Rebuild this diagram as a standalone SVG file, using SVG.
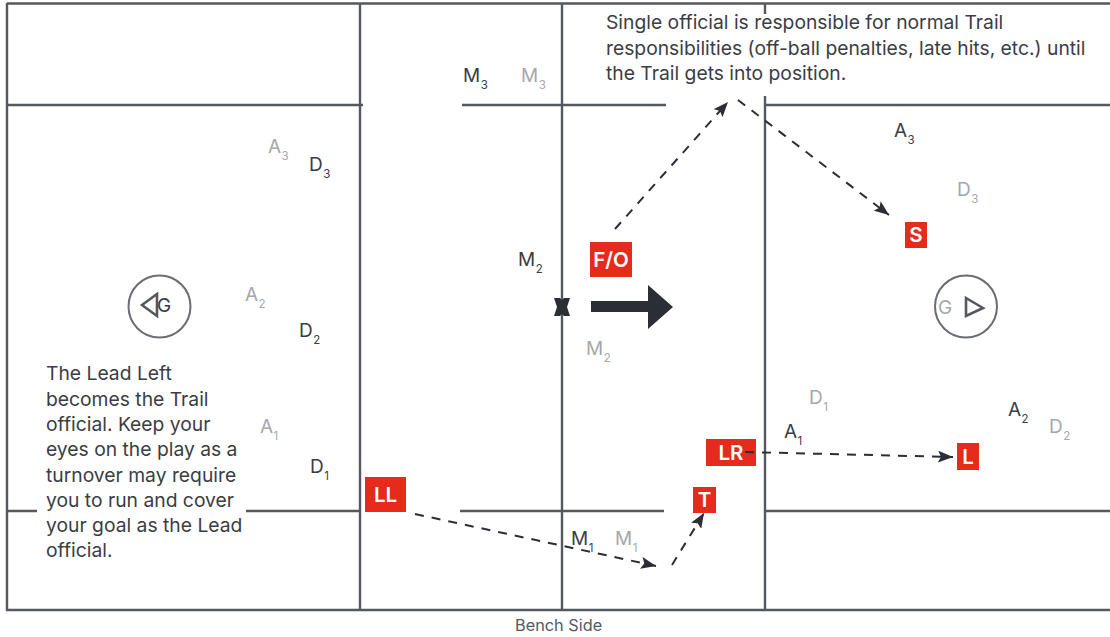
<svg xmlns="http://www.w3.org/2000/svg" width="1110" height="637" viewBox="0 0 1110 637">
<style>
text{font-family:"Inter","Liberation Sans",sans-serif;fill:#3a3d44}
.f{stroke:#55585f;stroke-width:2.4;fill:none}
.c{stroke:#6a6d73;stroke-width:2;fill:none}
.t{stroke:#55585f;stroke-width:2.6;fill:none}
.d{stroke:#2b2e34;stroke-width:2;fill:none;stroke-dasharray:9 8;marker-end:url(#a)}
.p{font-size:19px}
.p tspan.s{font-size:11.500px}
text.g{fill:#a6a8ab}
.n{font-size:19.300px}
.r{fill:#e52b1b}
text.w{fill:#fff;font-weight:600;font-size:20.5px;text-anchor:middle}
</style>
<defs><marker id="a" markerUnits="userSpaceOnUse" markerWidth="16" markerHeight="12" refX="15" refY="6" orient="auto"><path d="M0 0L15 6L0 12L3 6Z" fill="#2b2e34"/></marker></defs>
<rect width="1110" height="637" fill="#fff"/>
<g id="field">
<path class="f" d="M7 3.500H1110M7 3V611M6 610H1110M360 3V610M562 3V610M765 96V610M765 3V14M7 105H363M462 105H666M765 105H1110M7 511H37M246 511H360M460 511H664M765 511H1110"/>
</g>
<g id="goal-left"><circle class="c" cx="159.500" cy="306.500" r="31"/><path class="t" d="M142 305L157 294V316Z"/><text x="157" y="312" font-size="19">G</text></g>
<g id="goal-right"><circle class="c" cx="966" cy="306.500" r="31"/><text x="938" y="314" font-size="19" class="g">G</text><path class="t" d="M966 298L983 308L966 316Z"/></g>
<g id="cross"><path d="M554 298H560L562 300L564 298H570L567 307L570 316H564L562 314L560 316H554L557 307Z" fill="#2b2e34"/></g>
<g id="players">
<text class="p g" x="268" y="153">A<tspan class="s" dx="0.500" dy="7">3</tspan></text>
<text class="p" x="309" y="171">D<tspan class="s" dx="0.500" dy="7">3</tspan></text>
<text class="p g" x="245" y="301">A<tspan class="s" dx="0.500" dy="7">2</tspan></text>
<text class="p" x="299" y="337">D<tspan class="s" dx="0.500" dy="7">2</tspan></text>
<text class="p g" x="260" y="433">A<tspan class="s" dx="0.500" dy="7">1</tspan></text>
<text class="p" x="310" y="473">D<tspan class="s" dx="0.500" dy="7">1</tspan></text>
<text class="p" x="463" y="82">M<tspan class="s" dx="0.500" dy="7">3</tspan></text>
<text class="p g" x="521" y="82">M<tspan class="s" dx="0.500" dy="7">3</tspan></text>
<text class="p" x="518" y="266">M<tspan class="s" dx="0.500" dy="7">2</tspan></text>
<text class="p g" x="586" y="355">M<tspan class="s" dx="0.500" dy="7">2</tspan></text>
<text class="p" x="571" y="545">M<tspan class="s" dx="0.500" dy="7">1</tspan></text>
<text class="p g" x="615" y="545">M<tspan class="s" dx="0.500" dy="7">1</tspan></text>
<text class="p" x="894" y="137">A<tspan class="s" dx="0.500" dy="7">3</tspan></text>
<text class="p g" x="957" y="196">D<tspan class="s" dx="0.500" dy="7">3</tspan></text>
<text class="p g" x="809" y="404">D<tspan class="s" dx="0.500" dy="7">1</tspan></text>
<text class="p" x="784" y="438">A<tspan class="s" dx="0.500" dy="7">1</tspan></text>
<text class="p" x="1008" y="416">A<tspan class="s" dx="0.500" dy="7">2</tspan></text>
<text class="p g" x="1049" y="433">D<tspan class="s" dx="0.500" dy="7">2</tspan></text>
</g>
<g id="node-fo"><rect class="r" x="590" y="242" width="42" height="35"/><text class="w" x="611" y="267">F/O</text></g>
<g id="node-s"><rect class="r" x="905" y="222" width="22" height="26"/><text class="w" x="916" y="242">S</text></g>
<g id="node-ll"><rect class="r" x="365" y="477" width="41" height="35"/><text class="w" x="385.500" y="502">LL</text></g>
<g id="node-lr"><rect class="r" x="706" y="439" width="50" height="27"/><text class="w" x="731" y="460">LR</text></g>
<g id="node-t"><rect class="r" x="693" y="487" width="23" height="26"/><text class="w" x="704.500" y="507">T</text></g>
<g id="node-l"><rect class="r" x="957" y="443" width="22" height="27"/><text class="w" x="968" y="464">L</text></g>
<g id="connectors">
<path class="d" d="M615 229L728 102"/>
<path class="d" d="M738 100L889 215"/>
<path class="d" d="M415 514L656 566"/>
<path class="d" d="M672 565L704 513"/>
<path class="d" d="M745 452L953 457"/>
<path d="M591 301H648V285L673 307L648 329V312H591Z" fill="#2b2e34"/>
</g>
<g id="note-left"><text class="n"><tspan x="46" y="380">The Lead Left</tspan><tspan x="46" y="406">becomes the Trail</tspan><tspan x="46" y="431">official. Keep your</tspan><tspan x="46" y="456">eyes on the play as a</tspan><tspan x="46" y="482">turnover may require</tspan><tspan x="46" y="507">you to run and cover</tspan><tspan x="46" y="532">your goal as the Lead</tspan><tspan x="46" y="557">official.</tspan></text></g>
<g id="note-top"><text class="n"><tspan x="606" y="29">Single official is responsible for normal Trail</tspan><tspan x="606" y="55">responsibilities (off-ball penalties, late hits, etc.) until</tspan><tspan x="606" y="80">the Trail gets into position.</tspan></text></g>
<text x="515" y="631" font-size="16.300" style="fill:#55585f">Bench Side</text>
</svg>
